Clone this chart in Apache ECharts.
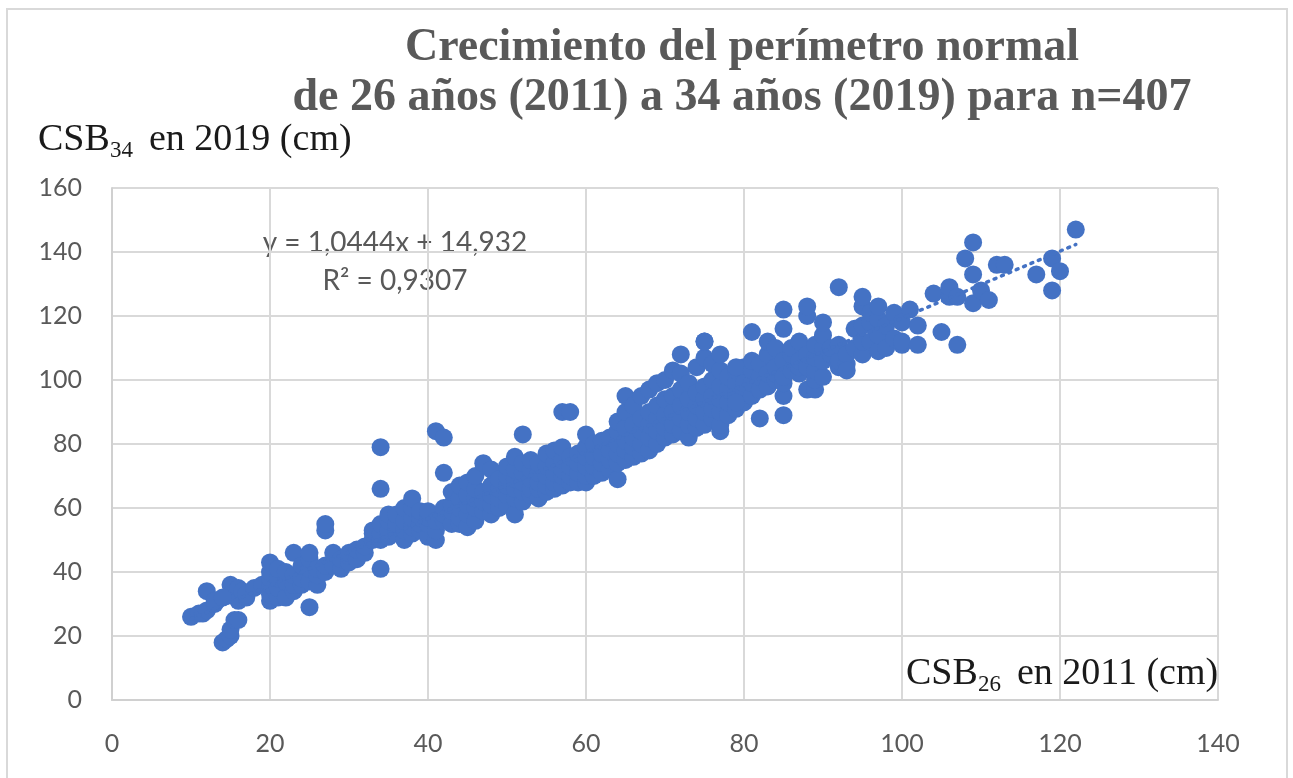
<!DOCTYPE html>
<html>
<head>
<meta charset="utf-8">
<script src="https://cdn.jsdelivr.net/npm/echarts@6/dist/echarts.min.js"></script>
<style>
  html, body { margin: 0; padding: 0; background: #fff; }
  #chart { width: 1293px; height: 778px; }
</style>
</head>
<body>
<div id="chart"></div>
<script>
// CSB a los 26 años (2011) vs CSB a los 34 años (2019), pares [x, y]
const puntosBajos = [
  [10, 26], [11, 27], [11.5, 27], [12, 34], [12, 28], [13, 30], [13, 31], [14, 18], [14.5, 19],
  [15, 20], [15, 22], [15.5, 25], [16, 25], [15, 36], [15, 33], [16, 35], [16, 31], [17, 32],
  [14, 32], [16.5, 34], [17, 33], [18, 35], [19, 36]
];
const puntos20a40 = [
  [20, 31], [20, 33], [20, 36], [20, 38], [20, 40], [20, 43], [20.5, 35], [21, 32], [21, 35],
  [21, 38], [21, 41], [22, 32], [22, 37], [22, 40], [23, 34], [23, 36], [23, 39], [23, 46],
  [24, 36], [24, 38], [24, 42], [25, 29], [25, 37], [25, 41], [25, 44], [25, 46], [26, 36],
  [26, 39], [26, 41], [27, 40], [27, 42], [27, 53], [27, 55], [28, 42], [28, 46], [29, 41],
  [29, 44], [30, 43], [30, 45], [30, 46], [31, 44], [31, 47], [32, 46], [32, 48], [33, 50],
  [33, 52], [33, 53], [34, 50], [34, 52], [34, 55], [34, 79], [34, 66], [34, 41], [35, 51],
  [35, 53], [35, 56], [35, 58], [36, 52], [36, 54], [36, 55], [36, 58], [37, 50], [37, 53],
  [37, 56], [37, 60], [38, 52], [38, 54], [38, 57], [38, 60], [38, 63], [39, 53], [39, 55],
  [39, 57], [39, 59], [40, 51], [40, 55], [40, 57], [40, 59]
];
const puntos40a60 = [
  [41, 50], [41, 53], [41, 56], [41, 84], [42, 82], [42, 71], [42, 56], [42, 58], [42, 60],
  [43, 55], [43, 59], [43, 61], [43, 65], [44, 55], [44, 57], [44, 60], [44, 63], [44, 67],
  [45, 54], [45, 58], [45, 61], [45, 64], [45, 68], [46, 56], [46, 60], [46, 63], [46, 66],
  [46, 70], [47, 59], [47, 62], [47, 65], [47, 74], [48, 58], [48, 61], [48, 64], [48, 67],
  [48, 72], [49, 60], [49, 63], [49, 66], [49, 69], [50, 61], [50, 64], [50, 67], [50, 70],
  [50, 73], [51, 58], [51, 63], [51, 66], [51, 69], [51, 72], [51, 76], [52, 83], [52, 62],
  [52, 65], [52, 68], [52, 71], [52, 74], [53, 64], [53, 66], [53, 69], [53, 72], [53, 75],
  [54, 63], [54, 66], [54, 68], [54, 71], [54, 74], [55, 65], [55, 67], [55, 70], [55, 73],
  [55, 77], [56, 66], [56, 68], [56, 71], [56, 74], [56, 78], [57, 90], [57, 67], [57, 70],
  [57, 72], [57, 75], [57, 79], [58, 90], [58, 68], [58, 70], [58, 73], [58, 76], [59, 68],
  [59, 71], [59, 74], [59, 77], [60, 68], [60, 70], [60, 73], [60, 76], [60, 79], [60, 83]
];
const puntos60a80 = [
  [61, 70], [61, 73], [61, 76], [61, 80], [62, 71], [62, 74], [62, 77], [62, 81], [63, 72],
  [63, 75], [63, 78], [63, 82], [64, 69], [64, 74], [64, 77], [64, 80], [64, 84], [64, 87],
  [65, 75], [65, 78], [65, 81], [65, 85], [65, 90], [65, 95], [66, 76], [66, 79], [66, 82],
  [66, 86], [66, 92], [67, 77], [67, 80], [67, 84], [67, 88], [67, 95], [68, 78], [68, 82],
  [68, 86], [68, 90], [68, 97], [69, 80], [69, 84], [69, 88], [69, 92], [69, 99], [70, 82],
  [70, 85], [70, 89], [70, 94], [70, 100], [71, 83], [71, 86], [71, 90], [71, 95], [71, 103],
  [72, 84], [72, 88], [72, 92], [72, 97], [72, 102], [72, 108], [73, 82], [73, 86], [73, 90],
  [73, 94], [73, 99], [74, 85], [74, 88], [74, 92], [74, 96], [74, 104], [75, 86], [75, 90],
  [75, 94], [75, 98], [75, 107], [75, 112], [76, 88], [76, 91], [76, 95], [76, 100], [76, 105],
  [77, 84], [77, 86], [77, 90], [77, 94], [77, 98], [77, 103], [78, 89], [78, 93], [78, 97],
  [78, 101], [79, 91], [79, 95], [79, 99], [79, 103], [80, 93], [80, 96], [80, 100], [80, 104]
];
const puntosAltos = [
  [75, 112], [77, 108], [79, 104], [79, 93], [80, 99], [81, 95], [81, 99], [81, 103], [81, 106],
  [81, 115], [82, 88], [82, 97], [82, 101], [82, 105], [83, 98], [83, 102], [83, 108], [83, 112],
  [84, 100], [84, 102], [84, 104], [84, 110], [85, 89], [85, 95], [85, 99], [85, 101], [85, 106],
  [85, 116], [85, 122], [86, 103], [86, 108], [86, 110], [87, 102], [87, 104], [87, 106], [87, 112],
  [88, 97], [88, 104], [88, 108], [88, 120], [88, 123], [89, 97], [89, 100], [89, 103], [89, 107],
  [89, 111], [90, 101], [90, 106], [90, 110], [90, 114], [90, 118], [91, 108], [91, 110], [92, 129],
  [92, 104], [92, 106], [92, 111], [93, 105], [93, 108], [93, 103], [94, 110], [94, 116], [95, 108],
  [95, 112], [95, 117], [95, 123], [95, 126], [96, 112], [96, 118], [96, 121], [97, 109], [97, 114],
  [97, 119], [97, 123], [98, 110], [98, 117], [99, 113], [99, 121], [100, 111], [100, 112],
  [100, 118], [101, 122], [102, 117], [102, 111], [104, 127], [105, 115], [106, 126], [106, 129],
  [107, 111], [107, 126], [108, 138], [109, 143], [109, 133], [109, 124], [110, 128],
  [111, 125], [112, 136], [113, 136], [117, 133], [119, 138], [119, 128], [120, 134], [122, 147]
];

// Línea de tendencia (Excel): y = 1,0444x + 14,932
const pendiente = 1.0444;
const intercepto = 14.932;
const tendenciaX = [10, 122];

const ejeXTicks = [0, 20, 40, 60, 80, 100, 120, 140];
const ejeYTicks = [0, 20, 40, 60, 80, 100, 120, 140, 160];

const todos = [].concat(puntosBajos, puntos20a40, puntos40a60, puntos60a80, puntosAltos);

const chart = echarts.init(document.getElementById('chart'));

const azul = '#4472C4';
const gris = '#595959';
const negro = '#1a1a1a';
const serif = '"Liberation Serif", "DejaVu Serif", serif';
const sans = 'Lato, "Open Sans", sans-serif';

// nombre de eje con subíndice: "CSB" + edad (subíndice) + resto
function nombreEje(x, y, sub, resto) {
  const base = { fontFamily: serif, fontSize: 38, fill: negro, verticalAlign: 'middle' };
  return {
    type: 'group',
    x: x,
    y: y,
    silent: true,
    children: [
      { type: 'text', x: 0, y: 0, style: Object.assign({ text: 'CSB' }, base) },
      {
        type: 'text', x: 72, y: 11,
        style: { text: sub, fontFamily: serif, fontSize: 23, fill: negro, verticalAlign: 'middle' },
      },
      { type: 'text', x: 111, y: 0, style: Object.assign({ text: resto }, base) },
    ],
  };
}

chart.setOption({
  backgroundColor: '#fff',
  animation: false,
  title: {
    text: 'Crecimiento del perímetro normal\nde 26 años (2011) a 34 años (2019) para n=407',
    left: 737,
    top: 18,
    textAlign: 'center',
    textStyle: {
      fontFamily: serif,
      fontWeight: 'bold',
      fontSize: 46,
      lineHeight: 50,
      color: gris,
    },
  },
  grid: { left: 112, right: 75, top: 188, bottom: 78 },
  xAxis: {
    type: 'value',
    min: ejeXTicks[0],
    max: ejeXTicks[ejeXTicks.length - 1],
    interval: 20,
    axisLine: { show: true, lineStyle: { color: '#d0d0d0', width: 2 } },
    axisTick: { show: false },
    splitLine: { show: true, lineStyle: { color: '#d9d9d9', width: 2 } },
    axisLabel: { fontFamily: sans, fontSize: 25, color: gris, margin: 31 },
  },
  yAxis: {
    type: 'value',
    min: ejeYTicks[0],
    max: ejeYTicks[ejeYTicks.length - 1],
    interval: 20,
    axisLine: { show: true, lineStyle: { color: '#d0d0d0', width: 2 } },
    axisTick: { show: false },
    splitLine: { show: true, lineStyle: { color: '#d9d9d9', width: 2 } },
    axisLabel: { fontFamily: sans, fontSize: 25, color: gris, margin: 30 },
  },
  series: [
    {
      type: 'scatter',
      data: todos,
      symbolSize: 18,
      itemStyle: { color: azul, opacity: 1 },
      markLine: {
        silent: true,
        symbol: ['none', 'none'],
        z: 5,
        lineStyle: { type: [2, 6], color: azul, width: 3.5, cap: 'round' },
        label: { show: false },
        data: [
          [
            { coord: [tendenciaX[0], pendiente * tendenciaX[0] + intercepto] },
            { coord: [tendenciaX[1], pendiente * tendenciaX[1] + intercepto] },
          ],
        ],
      },
    },
  ],
  graphic: [
    {
      type: 'rect',
      shape: { x: 7, y: 9, width: 1280, height: 780 },
      style: { fill: 'none', stroke: '#d9d9d9', lineWidth: 2 },
      silent: true,
    },
    nombreEje(38, 140, '34', 'en 2019 (cm)'),
    nombreEje(906, 674, '26', 'en 2011 (cm)'),
    {
      type: 'text',
      x: 395,
      y: 224,
      style: {
        text: 'y = 1,0444x + 14,932\nR² = 0,9307',
        align: 'center',
        verticalAlign: 'top',
        fontFamily: sans,
        fontSize: 28,
        lineHeight: 38,
        fill: gris,
      },
    },
  ],
});
</script>
</body>
</html>
